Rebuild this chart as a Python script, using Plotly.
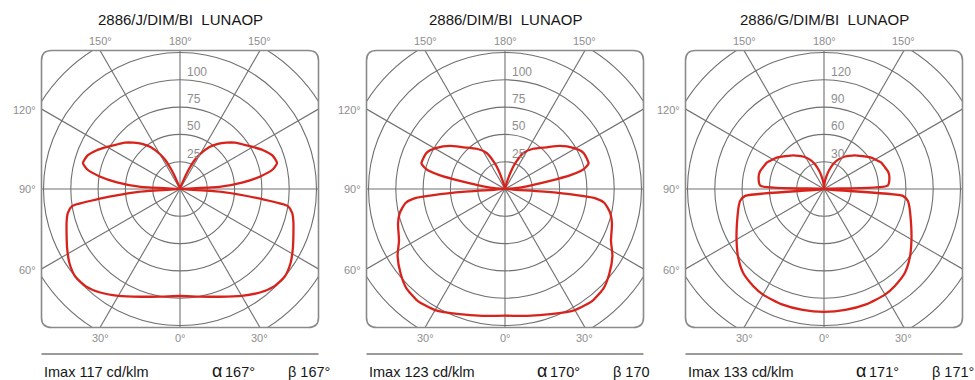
import numpy as np
import plotly.graph_objects as go

W, H = 975, 380

# ---- photometric curves: gamma (deg from nadir) vs intensity (cd/klm) ----
gamma_j = [0, 10, 20, 30, 38, 44, 50, 56, 62, 68, 74, 78, 81, 83, 86, 90,
           93, 96, 99, 102, 105, 110, 115, 120, 125, 130, 135, 140, 145, 150,
           153, 156, 159, 165, 180]
cd_j = [98, 100, 105, 113, 120, 124, 125, 122, 117, 112, 108, 105, 100, 75, 38, 0,
        36, 58, 75, 87, 92, 90, 84, 77, 71, 66, 60, 54, 47, 37,
        30, 19, 7, 1, 0]

gamma_dim = [0, 10, 20, 30, 38, 45, 51, 58, 64, 72, 77, 82, 84, 86, 90,
             94, 97, 100, 102, 104, 107, 110, 115, 121, 128, 135, 145, 153,
             158, 161, 164, 168, 180]
cd_dim = [116, 118, 122, 128, 130, 128, 123, 116, 108, 103, 99, 92, 84, 45, 0,
          8, 20, 40, 62, 74, 80, 80, 79, 73, 64, 54, 45, 37,
          26, 18, 8, 2, 0]

gamma_g = [0, 10, 20, 30, 36, 44, 52, 60, 66, 72, 78, 82, 85, 90,
           93, 100, 105, 110, 115, 120, 125, 130, 135, 140, 145, 150, 155,
           160, 165, 170, 175, 180]
cd_g = [135, 135, 135, 134, 132, 128, 120, 111, 105, 100, 96, 93, 87, 0,
        70, 73, 73, 71, 69, 65, 61, 56, 52, 48, 44, 40, 35,
        29, 21, 13, 6, 0]

titles = ["2886/J/DIM/BI  LUNAOP", "2886/DIM/BI  LUNAOP", "2886/G/DIM/BI  LUNAOP"]
ring_step = [25, 25, 30]
ring_label_count = 4
imax_text = ["Imax 117 cd/klm", "Imax 123 cd/klm", "Imax 133 cd/klm"]
alpha_text = ["167°", "170°", "171°"]
beta_text = ["β 167°", "β 170", "β 171°"]
curves = [(gamma_j, cd_j), (gamma_dim, cd_dim), (gamma_g, cd_g)]

# ---- geometry (pixels) ----
CX = [180, 505, 824]
CY = 189
HALF = 138.5
RING_PX = 27.3
N_RINGS = 6
CORNER = 10

RED = "#d8231c"
GRID = "#707070"
FRAME = "#8a8a8a"
LABEL = "#8e8e8e"
TEXT = "#161616"
FONT = "Liberation Sans, Arial, sans-serif"


def px(x):
    return x / W


def py(y):
    return 1 - y / H


def rounded_rect_path(x0, y0, x1, y1, r):
    pts = [
        ("M", [(x0 + r, y0)]),
        ("L", [(x1 - r, y0)]),
        ("Q", [(x1, y0), (x1, y0 + r)]),
        ("L", [(x1, y1 - r)]),
        ("Q", [(x1, y1), (x1 - r, y1)]),
        ("L", [(x0 + r, y1)]),
        ("Q", [(x0, y1), (x0, y1 - r)]),
        ("L", [(x0, y0 + r)]),
        ("Q", [(x0, y0), (x0 + r, y0)]),
    ]
    out = []
    for cmd, ps in pts:
        out.append(cmd + " " + " ".join(f"{px(a):.5f},{py(b):.5f}" for a, b in ps))
    return " ".join(out) + " Z"


def label(x, y, text, font, xanchor="center"):
    return dict(xref="paper", yref="paper", x=px(x), y=py(y), xanchor=xanchor,
                yanchor="middle", showarrow=False, text=text, font=font)


fig = go.Figure()
shapes = []
annotations = []
layout_axes = {}

for i in range(3):
    n = "" if i == 0 else str(i + 1)
    xa, ya = "x" + n, "y" + n
    cx = CX[i]
    step = ring_step[i]
    scale = RING_PX / step
    lim = HALF / scale

    layout_axes["xaxis" + n] = dict(domain=[px(cx - HALF), px(cx + HALF)], range=[-lim, lim],
                                    visible=False, fixedrange=True)
    layout_axes["yaxis" + n] = dict(domain=[py(CY + HALF), py(CY - HALF)], range=[-lim, lim],
                                    visible=False, fixedrange=True)

    # concentric intensity rings
    for k in range(1, N_RINGS + 1):
        r = k * step
        shapes.append(dict(type="circle", xref=xa, yref=ya, x0=-r, x1=r, y0=-r, y1=r,
                           line=dict(color=GRID, width=1.1), layer="below"))
    # radial lines every 30 degrees
    L = 8 * step
    for a in range(0, 360, 30):
        t = np.radians(a)
        shapes.append(dict(type="line", xref=xa, yref=ya, x0=0, y0=0,
                           x1=L * np.sin(t), y1=-L * np.cos(t),
                           line=dict(color=GRID, width=1.1), layer="below"))

    # luminous intensity curve, mirrored about the vertical axis
    g, cd = curves[i]
    g = np.radians(np.array(g, dtype=float))
    cd = np.array(cd, dtype=float)
    xr = cd * np.sin(g)
    yr = -cd * np.cos(g)
    x = np.concatenate([xr, -xr[::-1]])
    y = np.concatenate([yr, yr[::-1]])
    fig.add_trace(go.Scatter(x=x, y=y, mode="lines", xaxis=xa, yaxis=ya,
                             line=dict(color=RED, width=2.3, shape="spline", smoothing=0.6),
                             hoverinfo="skip", showlegend=False))

    # ring value labels
    for k in range(1, ring_label_count + 1):
        annotations.append(dict(xref=xa, yref=ya, x=0, y=k * step, xshift=5, yshift=8,
                                xanchor="left", yanchor="middle", showarrow=False,
                                text=str(k * step), font=dict(family=FONT, size=12, color=LABEL)))

    # frame
    x0, x1 = cx - HALF, cx + HALF
    y0, y1 = CY - HALF, CY + HALF
    shapes.append(dict(type="path", xref="paper", yref="paper",
                       path=rounded_rect_path(x0, y0, x1, y1, CORNER),
                       line=dict(color=FRAME, width=1.6), layer="above"))

    # title
    annotations.append(label(cx, 20, titles[i], dict(family=FONT, size=15, color=TEXT)))

    # angle labels
    dx30 = HALF * np.tan(np.radians(30))
    deg_font = dict(family=FONT, size=11, color=LABEL)
    for dxp, txt in [(-dx30, "150°"), (0, "180°"), (dx30, "150°")]:
        annotations.append(label(cx + dxp, 41, txt, deg_font))
    for dxp, txt in [(-dx30, "30°"), (0, "0°"), (dx30, "30°")]:
        annotations.append(label(cx + dxp, 338, txt, deg_font))
    for dyp, txt in [(-dx30 + 1, "120°"), (0, "90°"), (dx30 + 1, "60°")]:
        annotations.append(label(x0 - 4, CY + dyp, txt, deg_font, xanchor="right"))

    # footer rule and data
    shapes.append(dict(type="line", xref="paper", yref="paper", x0=px(x0), x1=px(x1),
                       y0=py(354), y1=py(354), line=dict(color="#9a9a9a", width=2.2)))
    foot_font = dict(family=FONT, size=14.5, color=TEXT)
    annotations.append(label(x0, 372, imax_text[i], foot_font, xanchor="left"))
    annotations.append(label(x0 + 168, 371, "α", dict(family=FONT, size=18, color=TEXT),
                             xanchor="left"))
    annotations.append(label(x0 + 181, 372, alpha_text[i], foot_font, xanchor="left"))
    annotations.append(label(x0 + 244, 372, beta_text[i], foot_font, xanchor="left"))

fig.update_layout(
    width=W, height=H,
    margin=dict(l=0, r=0, t=0, b=0),
    paper_bgcolor="white", plot_bgcolor="white",
    shapes=shapes, annotations=annotations,
    showlegend=False,
    **layout_axes,
)

fig.write_html("out.html", config={"displayModeBar": False})
